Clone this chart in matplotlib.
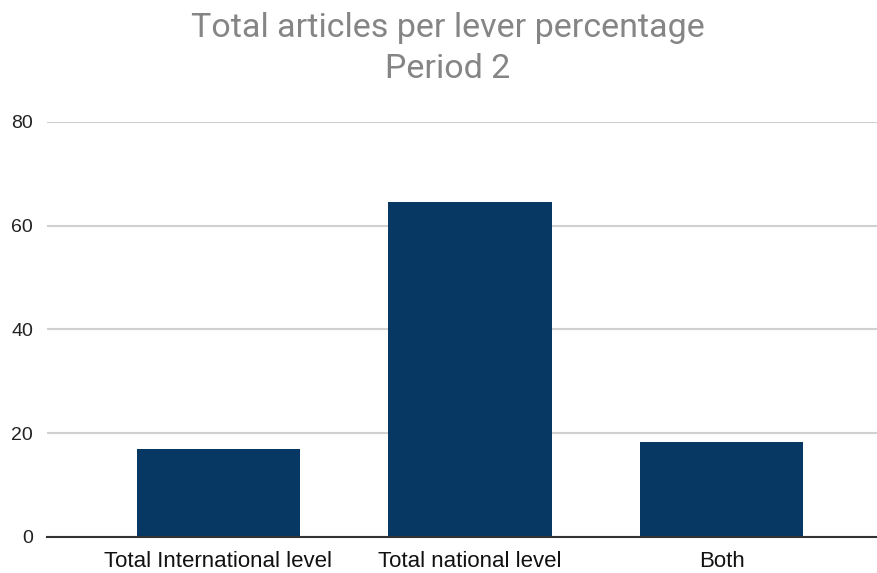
import matplotlib
matplotlib.use("Agg")
import matplotlib.pyplot as plt

categories = ["Total International level", "Total national level", "Both"]
values = [16.9, 64.5, 18.3]
yticks = [0, 20, 40, 60, 80]

bar_color = "#073763"

fig = plt.figure(figsize=(8.78, 5.73), dpi=100)
ax = fig.add_axes([0.0535, 0.0634, 0.9460, 0.7237])

x = list(range(len(categories)))
ax.bar(x, values, width=0.649, color=bar_color, zorder=3)

ax.set_xlim(-0.681, 2.62)
ax.set_ylim(0, 80)
ax.set_yticks(yticks)
ax.set_yticklabels([str(t) for t in yticks], fontsize=14, family="Liberation Sans", color="#222222")
ax.set_xticks(x)
ax.set_xticklabels(categories, fontsize=16, family="Liberation Sans", color="#111111")
ax.tick_params(axis="y", length=0, pad=10)
ax.tick_params(axis="x", length=0, pad=10)

ax.grid(axis="y", color="#d0d0d0", linewidth=1.5, zorder=0)
ax.set_axisbelow(True)
for s in ["top", "right", "left"]:
    ax.spines[s].set_visible(False)
ax.spines["bottom"].set_color("#333333")
ax.spines["bottom"].set_linewidth(1.5)
ax.spines["bottom"].set_zorder(4)

fig.text(0.5103, 0.951, "Total articles per lever percentage", ha="center", va="center",
         fontsize=24.5, family="Roboto", color="#858585")
fig.text(0.5103, 0.879, "Period 2", ha="center", va="center",
         fontsize=24.5, family="Roboto", color="#858585")

fig.savefig("out.png", dpi=100)
